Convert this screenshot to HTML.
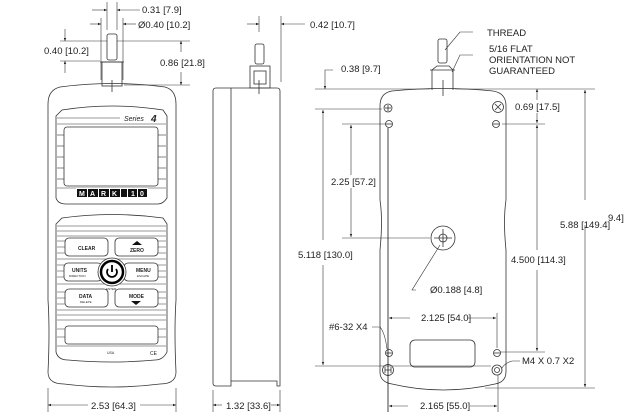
<!DOCTYPE html>
<html><head><meta charset="utf-8"><style>
html,body{margin:0;padding:0;background:#fff;}
svg{display:block;}
text{font-family:"Liberation Sans",sans-serif;font-size:9.5px;fill:#222;}
.s{font-size:5px;font-weight:bold;}
</style></head><body>
<svg width="640" height="419" viewBox="0 0 640 419" xmlns="http://www.w3.org/2000/svg">
<defs>
<marker id="a" viewBox="0 0 10 10" refX="10" refY="5" markerWidth="7" markerHeight="5" orient="auto-start-reverse"><path d="M0,1 L10,5 L0,9z" fill="#222"/></marker>
</defs>
<g fill="none" stroke="#333" stroke-width="0.8">
<!-- FRONT VIEW -->
<path d="M60,87 Q112,80 165,87 Q176,90 176,104 L176,300 Q174,330 176,372 Q176,384 160,384 Q112,390 64,384 Q48,384 48,372 Q50,330 48,300 L48,104 Q48,90 60,87z"/>
<rect x="102" y="62" width="20" height="24"/>
<line x1="100" y1="62" x2="124" y2="62"/>
<rect x="107" y="34" width="10" height="26" rx="2"/>
<line x1="112" y1="80" x2="112" y2="92"/>
<path d="M62,110 Q112,102 163,110 L167,116 L167,198 Q163,204 158,204 L66,204 Q58,204 56,198 L56,116z"/>
<rect x="64" y="127" width="94" height="59" rx="3"/>
<g stroke-width="0.6">
<line x1="57" y1="118" x2="120" y2="118"/><line x1="57" y1="124" x2="166" y2="124"/>
<line x1="57" y1="135" x2="64" y2="135"/><line x1="57" y1="146" x2="64" y2="146"/><line x1="57" y1="157" x2="64" y2="157"/><line x1="57" y1="168" x2="64" y2="168"/><line x1="57" y1="179" x2="64" y2="179"/>
<line x1="158" y1="135" x2="166" y2="135"/><line x1="158" y1="146" x2="166" y2="146"/><line x1="158" y1="157" x2="166" y2="157"/><line x1="158" y1="168" x2="166" y2="168"/><line x1="158" y1="179" x2="166" y2="179"/>
<line x1="57" y1="188" x2="166" y2="188"/>
</g>
<path d="M62,218 Q112,211 163,218 L167,224 L167,352 Q163,360 155,360 Q112,364 68,360 Q58,360 56,352 L56,224z"/>
<g stroke-width="0.5">
<line x1="57" y1="226" x2="166" y2="226"/><line x1="57" y1="231" x2="166" y2="231"/><line x1="57" y1="236" x2="166" y2="236"/>
<line x1="57" y1="241" x2="65" y2="241"/><line x1="158" y1="241" x2="166" y2="241"/>
<line x1="57" y1="247" x2="65" y2="247"/><line x1="158" y1="247" x2="166" y2="247"/>
<line x1="57" y1="253" x2="65" y2="253"/><line x1="158" y1="253" x2="166" y2="253"/>
<line x1="57" y1="259" x2="166" y2="259"/>
<line x1="57" y1="265" x2="64" y2="265"/><line x1="158" y1="265" x2="166" y2="265"/>
<line x1="57" y1="271" x2="64" y2="271"/><line x1="158" y1="271" x2="166" y2="271"/>
<line x1="57" y1="277" x2="64" y2="277"/><line x1="158" y1="277" x2="166" y2="277"/>
<line x1="57" y1="284" x2="166" y2="284"/>
<line x1="57" y1="292" x2="65" y2="292"/><line x1="158" y1="292" x2="166" y2="292"/>
<line x1="57" y1="298" x2="65" y2="298"/><line x1="158" y1="298" x2="166" y2="298"/>
<line x1="57" y1="304" x2="65" y2="304"/><line x1="158" y1="304" x2="166" y2="304"/>
<line x1="57" y1="310" x2="166" y2="310"/><line x1="57" y1="315" x2="166" y2="315"/><line x1="57" y1="320" x2="166" y2="320"/>
<line x1="57" y1="329" x2="65" y2="329"/><line x1="158" y1="329" x2="166" y2="329"/>
<line x1="57" y1="337" x2="65" y2="337"/><line x1="158" y1="337" x2="166" y2="337"/>
<line x1="57" y1="346" x2="166" y2="346"/>
</g>
<rect x="65" y="238" width="43" height="18" rx="4" fill="#fff"/>
<rect x="115" y="238" width="43" height="18" rx="4" fill="#fff"/>
<rect x="64" y="263" width="38" height="18" rx="4" fill="#fff"/>
<rect x="124" y="263" width="34" height="18" rx="4" fill="#fff"/>
<rect x="65" y="289" width="43" height="18" rx="4" fill="#fff"/>
<rect x="115" y="289" width="43" height="18" rx="4" fill="#fff"/>
<circle cx="112" cy="272" r="14" fill="#fff"/>
<circle cx="112" cy="272" r="11" stroke="#000" stroke-width="2.5"/>
<path d="M108,269 A5,5 0 1 0 116,269" stroke="#000" stroke-width="1.8"/>
<line x1="112" y1="265" x2="112" y2="272" stroke="#000" stroke-width="1.8"/>
<rect x="65" y="326" width="93" height="18" rx="3" fill="#fff"/>
<!-- SIDE VIEW -->
<path d="M216,88 L277,88 Q280,88 280,91 L280,386 L277,386 L277,381 L231,381 L231,386 L216,386 Q213,386 213,383 L213,91 Q213,88 216,88z"/>
<line x1="231" y1="88" x2="231" y2="381"/>
<rect x="250" y="66" width="20" height="22"/>
<rect x="254" y="71" width="12" height="13"/>
<rect x="255" y="44" width="9" height="20" rx="2"/>
<line x1="259" y1="80" x2="259" y2="94"/>
<!-- BACK VIEW -->
<path d="M392,91 Q443,86 493,91 Q506,93 506,106 L506,200 Q503,220 506,250 L506,372 Q506,382 495,384 Q443,396 392,384 Q380,382 380,372 L380,250 Q383,220 380,200 L380,106 Q380,93 392,91z"/>
<path d="M432,90 L432,70 L437,66 L449,66 L453,70 L453,90"/>
<line x1="430" y1="70" x2="455" y2="70"/>
<rect x="438" y="39" width="9" height="24" rx="2"/>
<line x1="443" y1="80" x2="443" y2="96"/>
<circle cx="388" cy="108" r="4"/><line x1="385" y1="108" x2="391" y2="108"/><line x1="388" y1="105" x2="388" y2="111"/>
<circle cx="498" cy="107" r="5.5"/><path d="M495,104 L501,110 M501,104 L495,110"/>
<circle cx="389" cy="124" r="3.5"/><line x1="386" y1="124" x2="392" y2="124"/>
<circle cx="496" cy="124" r="3.5"/><line x1="493" y1="124" x2="499" y2="124"/>
<circle cx="389" cy="353" r="3.5"/><line x1="386" y1="353" x2="392" y2="353"/>
<circle cx="497" cy="353" r="3.5"/><line x1="494" y1="353" x2="500" y2="353"/>
<circle cx="388" cy="370" r="5.5"/><path d="M385,367 L385,373 M391,367 L391,373 M385,370 L391,370"/>
<circle cx="497" cy="370" r="5"/><circle cx="497" cy="370" r="2.5"/>
<rect x="410" y="340" width="65" height="27" rx="5"/>
<circle cx="443" cy="238" r="12"/><circle cx="443" cy="238" r="4"/>
<line x1="434" y1="238" x2="452" y2="238"/><line x1="443" y1="229" x2="443" y2="247"/>
</g>
<!-- labels on front -->
<rect x="76" y="188" width="72" height="10" fill="#fff"/>
<g fill="#111"><rect x="77" y="189" width="10" height="8"/><rect x="88" y="189" width="10" height="8"/><rect x="99" y="189" width="10" height="8"/><rect x="110" y="189" width="10" height="8"/><rect x="121" y="189" width="6" height="8"/><rect x="128" y="189" width="9" height="8"/><rect x="138" y="189" width="9" height="8"/></g>
<g fill="#fff" style="font-size:7px;font-weight:bold"><text x="79" y="196" style="fill:#fff;font-size:7px">M</text><text x="90" y="196" style="fill:#fff;font-size:7px">A</text><text x="101" y="196" style="fill:#fff;font-size:7px">R</text><text x="112" y="196" style="fill:#fff;font-size:7px">K</text><text x="131" y="196" style="fill:#fff;font-size:7px">1</text><text x="140" y="196" style="fill:#fff;font-size:7px">0</text></g>
<rect x="122" y="112" width="40" height="10" fill="#fff"/>
<text x="124" y="121" style="font-style:italic;font-size:7px">Series</text>
<text x="151" y="122" style="font-style:italic;font-weight:bold;font-size:10px">4</text>
<text x="78" y="250" class="s">CLEAR</text>
<text x="130" y="252" class="s">ZERO</text>
<path d="M132,245 L137,241 L142,245z" fill="#111"/>
<text x="72" y="272" class="s">UNITS</text><text x="69" y="277" style="font-size:3px">DIRECTION</text>
<text x="136" y="272" class="s">MENU</text><text x="137" y="277" style="font-size:3px">ESCAPE</text>
<text x="106" y="290" style="font-size:3px">ENTER</text>
<text x="79" y="298" class="s">DATA</text><text x="80" y="303" style="font-size:3px">DELETE</text>
<text x="129" y="298" class="s">MODE</text>
<path d="M131,301 L136,305 L141,301z" fill="#111"/>
<text x="107" y="354" style="font-size:3.5px">USA</text>
<text x="150" y="355" style="font-size:5px">CE</text>
<!-- DIMENSIONS -->
<g stroke="#333" stroke-width="0.6" fill="none">
<line x1="107" y1="2" x2="107" y2="30"/><line x1="117" y1="2" x2="117" y2="30"/>
<line x1="92" y1="10" x2="107" y2="10" marker-end="url(#a)"/><line x1="140" y1="10" x2="117" y2="10" marker-end="url(#a)"/>
<line x1="101" y1="18" x2="101" y2="80"/><line x1="123" y1="18" x2="123" y2="80"/>
<line x1="90" y1="24" x2="101" y2="24" marker-end="url(#a)"/><line x1="136" y1="24" x2="123" y2="24" marker-end="url(#a)"/>
<line x1="60" y1="41" x2="107" y2="41"/><line x1="60" y1="61" x2="100" y2="61"/>
<line x1="65" y1="29" x2="65" y2="41" marker-end="url(#a)"/><line x1="65" y1="73" x2="65" y2="61" marker-end="url(#a)"/>
<line x1="117" y1="41" x2="190" y2="41"/><line x1="124" y1="85" x2="190" y2="85"/>
<line x1="181" y1="52" x2="181" y2="41" marker-end="url(#a)"/><line x1="181" y1="72" x2="181" y2="85" marker-end="url(#a)"/>
<line x1="48" y1="388" x2="48" y2="412"/><line x1="176" y1="388" x2="176" y2="412"/>
<line x1="88" y1="405" x2="48" y2="405" marker-end="url(#a)"/><line x1="140" y1="405" x2="176" y2="405" marker-end="url(#a)"/>
<line x1="259" y1="16" x2="259" y2="32"/><line x1="281" y1="16" x2="281" y2="82"/>
<line x1="247" y1="24" x2="259" y2="24" marker-end="url(#a)"/><line x1="305" y1="24" x2="281" y2="24" marker-end="url(#a)"/>
<line x1="213" y1="390" x2="213" y2="412"/><line x1="280" y1="390" x2="280" y2="412"/>
<line x1="222" y1="405" x2="213" y2="405" marker-end="url(#a)"/><line x1="271" y1="405" x2="280" y2="405" marker-end="url(#a)"/>
<!-- back -->
<path d="M333,70 L325,70 L325,89" marker-end="url(#a)"/>
<line x1="315" y1="89" x2="430" y2="89"/>
<line x1="455" y1="89" x2="595" y2="89"/>
<line x1="315" y1="109" x2="382" y2="109"/>
<line x1="342" y1="124" x2="386" y2="124"/><line x1="502" y1="124" x2="545" y2="124"/>
<line x1="342" y1="238" x2="430" y2="238"/>
<line x1="315" y1="366" x2="491" y2="366"/>
<line x1="500" y1="352" x2="545" y2="352"/>
<line x1="485" y1="388" x2="595" y2="388"/>
<line x1="323" y1="240" x2="323" y2="110" marker-end="url(#a)"/><line x1="323" y1="265" x2="323" y2="365" marker-end="url(#a)"/>
<line x1="351" y1="175" x2="351" y2="125" marker-end="url(#a)"/><line x1="351" y1="188" x2="351" y2="237" marker-end="url(#a)"/>
<line x1="537" y1="100" x2="537" y2="89" marker-end="url(#a)"/><line x1="537" y1="113" x2="537" y2="123" marker-end="url(#a)"/>
<line x1="537" y1="250" x2="537" y2="125" marker-end="url(#a)"/><line x1="537" y1="270" x2="537" y2="351" marker-end="url(#a)"/>
<line x1="585" y1="200" x2="585" y2="90" marker-end="url(#a)"/><line x1="585" y1="225" x2="585" y2="387" marker-end="url(#a)"/>
<line x1="388" y1="128" x2="388" y2="412" stroke="#111" stroke-width="0.8"/>
<line x1="497" y1="313" x2="497" y2="348"/>
<line x1="498" y1="375" x2="498" y2="412"/>
<line x1="410" y1="318" x2="389" y2="318" marker-end="url(#a)"/><line x1="468" y1="318" x2="496" y2="318" marker-end="url(#a)"/>
<line x1="408" y1="406" x2="389" y2="406" marker-end="url(#a)"/><line x1="470" y1="406" x2="497" y2="406" marker-end="url(#a)"/>
<path d="M416,290 L412,290 L440,245"/>
<path d="M372,327 L380,327 Q385,333 387,349"/>
<path d="M520,361 L512,361 Q505,363 502,368"/>
<path d="M473,32 L460,32 L445,50"/>
<path d="M473,55 L460,55 L452,72"/>
</g>
<text x="142" y="13">0.31 [7.9]</text>
<text x="138" y="28">Ø0.40 [10.2]</text>
<text x="44" y="54">0.40 [10.2]</text>
<text x="160" y="66">0.86 [21.8]</text>
<text x="91" y="409">2.53 [64.3]</text>
<text x="310" y="28">0.42 [10.7]</text>
<text x="226" y="409">1.32 [33.6]</text>
<text x="487" y="36">THREAD</text>
<text x="489" y="52">5/16 FLAT</text>
<text x="489" y="63">ORIENTATION NOT</text>
<text x="489" y="74">GUARANTEED</text>
<text x="341" y="72">0.38 [9.7]</text>
<text x="515" y="110">0.69 [17.5]</text>
<text x="331" y="185">2.25 [57.2]</text>
<text x="298" y="258">5.118 [130.0]</text>
<text x="511" y="263">4.500 [114.3]</text>
<text x="560" y="228">5.88 [149.4]</text>
<text x="608" y="221">9.4]</text>
<text x="430" y="293">Ø0.188 [4.8]</text>
<text x="421" y="321">2.125 [54.0]</text>
<text x="329" y="330">#6-32 X4</text>
<text x="522" y="364">M4 X 0.7 X2</text>
<text x="420" y="409">2.165 [55.0]</text>
</svg>
</body></html>
